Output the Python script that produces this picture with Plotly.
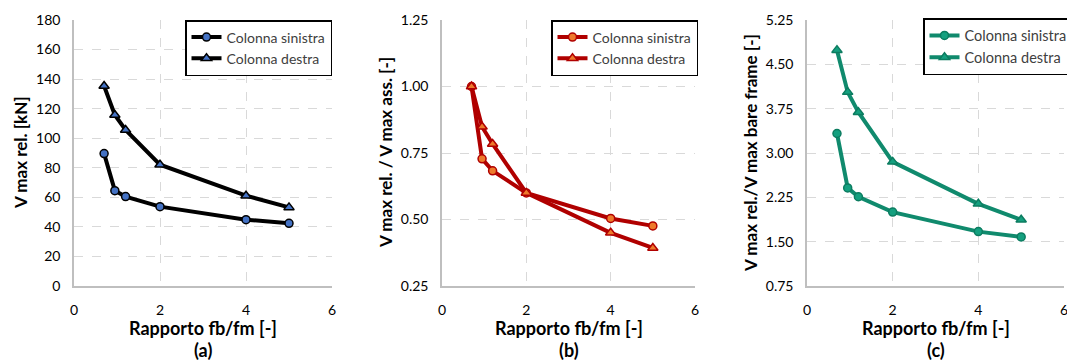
import plotly.graph_objects as go

# ---------------- data ----------------
x_ratio = [0.7, 0.95, 1.2, 2, 4, 5]

a_sinistra = [89.6, 64.5, 60.5, 53.7, 44.9, 42.4]
a_destra = [135.3, 115.7, 105.6, 82.1, 61.1, 53.2]

b_sinistra = [1.00, 0.728, 0.683, 0.600, 0.504, 0.476]
b_destra = [1.00, 0.849, 0.784, 0.600, 0.450, 0.393]

c_sinistra = [3.33, 2.41, 2.26, 2.00, 1.67, 1.58]
c_destra = [4.74, 4.03, 3.69, 2.85, 2.14, 1.87]

series_names = ["Colonna sinistra", "Colonna destra"]
x_title = "Rapporto fb/fm [-]"
y_titles = ["V max rel. [kN]", "V max rel. / V max ass. [-]", "V max rel./V max bare frame [-]"]
panel_labels = ["(a)", "(b)", "(c)"]

# ---------------- layout helpers ----------------
W, H = 1067, 360
FONT = "Lato, 'Open Sans', sans-serif"

def px_x(p):
    return p / W

def px_y(p):
    return 1 - p / H

panels = [
    dict(x0=74, x1=332, data=(a_sinistra, a_destra), yr=[0, 180], dt=20, fmt="d",
         line="#000000", mfill="#4472C4", mline="#000000", ytx=20,
         leg=dict(x=332, y=20, fs=14, anchor="right")),
    dict(x0=442, x1=695, data=(b_sinistra, b_destra), yr=[0.25, 1.25], dt=0.25, fmt=".2f",
         line="#B00000", mfill="#EE7A2C", mline="#B00000", ytx=385,
         leg=dict(x=698, y=20, fs=14, anchor="right")),
    dict(x0=807, x1=1064, data=(c_sinistra, c_destra), yr=[0.75, 5.25], dt=0.75, fmt=".2f",
         line="#108A6D", mfill="#14A07F", mline="#0C7C60", ytx=750,
         leg=dict(x=923, y=18, fs=14.5, anchor="left")),
]

plot_top, plot_bot = 20, 286

fig = go.Figure()
annotations = []
layout = dict(
    width=W, height=H,
    margin=dict(l=0, r=0, t=0, b=0, autoexpand=False),
    paper_bgcolor="white", plot_bgcolor="white",
    font=dict(family=FONT, size=14, color="#000000"),
)

for i, p in enumerate(panels):
    k = "" if i == 0 else str(i + 1)
    xa, ya = "x" + k, "y" + k
    leg = "legend" + k
    for j, (vals, sym, msz) in enumerate(zip(p["data"], ["circle", "triangle-up"], [8, 9])):
        fig.add_trace(go.Scatter(
            x=x_ratio, y=vals, name=series_names[j], mode="lines+markers",
            xaxis=xa, yaxis=ya, legend=leg,
            line=dict(color=p["line"], width=4),
            marker=dict(symbol=sym, size=msz, color=p["mfill"],
                        line=dict(color=p["mline"], width=1.5)),
        ))
    layout["xaxis" + k] = dict(
        domain=[px_x(p["x0"]), px_x(p["x1"])], range=[0, 6], dtick=2, tick0=0,
        anchor=ya, showline=True, linecolor="#BFBFBF", linewidth=1.5,
        showgrid=True, gridcolor="#D9D9D9", griddash="dash", gridwidth=1,
        zeroline=False, ticks="", automargin=False, ticklabelstandoff=10,
        ticklabeloverflow="allow", tickfont=dict(size=14, color="#000"),
    )
    layout["yaxis" + k] = dict(
        domain=[px_y(plot_bot), px_y(plot_top)], range=p["yr"], dtick=p["dt"], tick0=p["yr"][0],
        tickformat=p["fmt"], anchor=xa, showline=True, linecolor="#BFBFBF", linewidth=1.5,
        showgrid=True, gridcolor="#D9D9D9", griddash="dash", gridwidth=1,
        zeroline=False, ticks="", automargin=False, ticklabelstandoff=9,
        ticklabeloverflow="allow", tickfont=dict(size=14, color="#000"),
    )
    layout[leg] = dict(
        x=px_x(p["leg"]["x"]), y=px_y(p["leg"]["y"]), xanchor=p["leg"]["anchor"], yanchor="top",
        bgcolor="white", bordercolor="#000000", borderwidth=1.5,
        font=dict(family=FONT, size=p["leg"]["fs"], color="#404040"),
        tracegroupgap=0, itemwidth=30,
    )
    cx = px_x((p["x0"] + p["x1"]) / 2)
    common = dict(xref="paper", yref="paper", showarrow=False, xanchor="center", yanchor="middle")
    annotations.append(dict(text="<b>%s</b>" % x_title, x=cx, y=px_y(328),
                            font=dict(family=FONT, size=18, color="#000"), **common))
    annotations.append(dict(text="<b>%s</b>" % panel_labels[i], x=cx, y=px_y(350),
                            font=dict(family=FONT, size=18, color="#000"), **common))
    annotations.append(dict(text="<b>%s</b>" % y_titles[i], x=px_x(p["ytx"]), y=px_y(153),
                            textangle=-90, font=dict(family=FONT, size=17, color="#000"), **common))

layout["annotations"] = annotations
fig.update_layout(**layout)
fig.write_html("out.html", config={"displayModeBar": False},
               post_script="document.body.style.margin='0px';document.body.style.overflow='hidden';")
